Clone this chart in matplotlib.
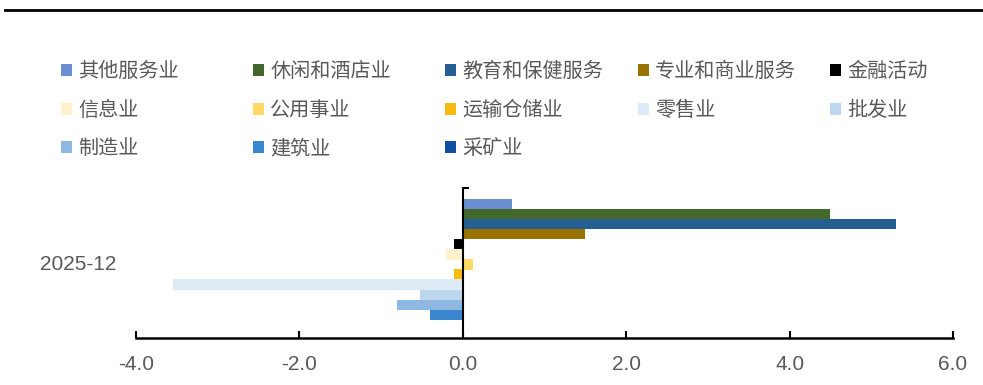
import numpy as np
import matplotlib.pyplot as plt
from matplotlib.patches import Patch
from matplotlib.lines import Line2D

plt.rcParams['font.family'] = ['Noto Sans CJK SC', 'DejaVu Sans']

# 分行业新增就业（万人）
category = "2025-12"
sectors = ["其他服务业", "休闲和酒店业", "教育和保健服务", "专业和商业服务", "金融活动",
           "信息业", "公用事业", "运输仓储业", "零售业", "批发业",
           "制造业", "建筑业", "采矿业"]
values = [0.6, 4.5, 5.3, 1.5, -0.11,
          -0.21, 0.13, -0.11, -3.55, -0.52,
          -0.8, -0.4, 0.0]
colors = ["#6A8FD0", "#43682B", "#255E91", "#997300", "#000000",
          "#FFF2CC", "#FFD966", "#FABB10", "#DDEBF7", "#BDD7EE",
          "#8EB8E2", "#3A86CE", "#0F4FA0"]
xticks = [-4.0, -2.0, 0.0, 2.0, 4.0, 6.0]

grey = "#595959"

fig = plt.figure(figsize=(9.83, 3.85), dpi=100)
ax = fig.add_axes([136/983, 1-338/385, (953-136)/983, (338-188)/385])

n = len(sectors)
step = 0.067
offsets = (np.arange(n) - (n-1)/2) * step
ypos = -offsets - 0.01
handles = []
for i in range(n):
    ax.barh(ypos[i], values[i], height=step*1.02, color=colors[i], linewidth=0)
    handles.append(Patch(facecolor=colors[i], edgecolor='none', label=sectors[i]))

ax.set_xlim(-4, 6)
ax.set_ylim(-0.5, 0.5)
ax.set_xticks(xticks)
ax.set_xticklabels([f"{t:.1f}" for t in xticks], fontsize=15, color=grey,
                   family=['Liberation Sans', 'DejaVu Sans'])
ax.tick_params(axis='x', direction='in', length=5, width=1.5, pad=12)

# category axis sits on x = 0, label stays at the left edge
for s in ['top', 'right', 'left']:
    ax.spines[s].set_visible(False)
ax.spines['bottom'].set_linewidth(1.8)
ax.set_yticks([0])
ax.set_yticklabels([category], fontsize=15, color=grey,
                   family=['Liberation Sans', 'DejaVu Sans'])
ax.tick_params(axis='y', length=0, pad=14)
ax.axvline(0, color='black', lw=1.5)
ax.plot([0, 0.06], [0.5, 0.5], color='black', lw=1.5, clip_on=False)

# legend: five equal-width columns, three rows
col_x = [61, 253, 445, 638, 830]
for j in range(5):
    hs = handles[j::5]
    fig.legend(handles=hs, loc='upper left',
               bbox_to_anchor=(col_x[j]/983, 1-61/385),
               frameon=False, fontsize=14.5, ncol=1,
               handlelength=0.55, handleheight=0.55, handletextpad=0.3,
               labelspacing=0.88, borderpad=0, borderaxespad=0,
               labelcolor=grey)

# top rule
fig.add_artist(Line2D([5/983, 1], [1-10/385, 1-10/385], color='black', lw=2,
                      transform=fig.transFigure))

plt.savefig("out.png", dpi=100)
